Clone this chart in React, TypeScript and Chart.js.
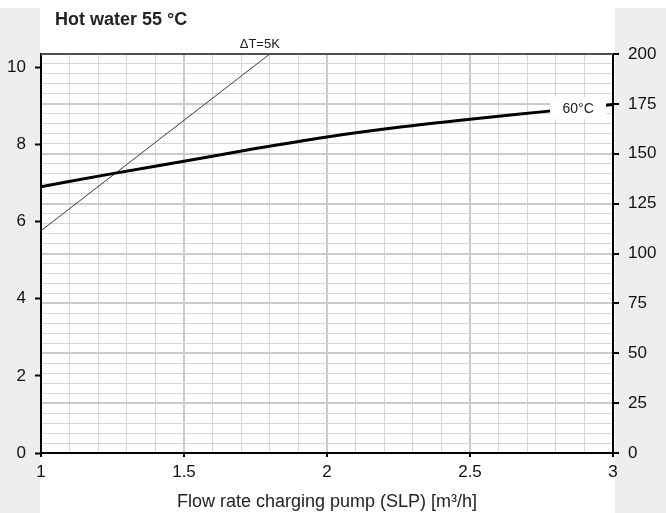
import React, { useEffect, useRef } from "react";
import { Chart, registerables } from "chart.js";

Chart.register(...registerables);

// ---- data ----
const flowRates = [1, 1.25, 1.5, 1.75, 2, 2.25, 2.5, 2.75, 3];
const output60 = [6.9, 7.24, 7.56, 7.89, 8.19, 8.44, 8.65, 8.84, 9.03];
const deltaTFlow = [1, 1.8];
const deltaTOutput = [5.76, 10.34];
const xTickLabels = [1, 1.5, 2, 2.5, 3];
const leftTicks = [0, 2, 4, 6, 8, 10];
const rightTicks = [0, 25, 50, 75, 100, 125, 150, 175, 200];
const curveLabelX = 2.878;
const curveLabelY = 8.94;
const chartTitle = "Hot water 55 °C";
const xTitle = "Flow rate charging pump (SLP) [m³/h]";
const curveLabel = "60°C";
const deltaLabel = "ΔT=5K";

const FONT = "'Liberation Sans', Arial, sans-serif";
const X_MIN = 1;
const X_MAX = 3;
const LEFT_MAX = 10.34;
const RIGHT_MAX = 200;
const X_MINOR = 0.1;
const R_MINOR = 5;

const near = (a: number, b: number) => Math.abs(a - b) < 1e-6;
const isXMajor = (v: number) => xTickLabels.some((t) => near(t, v));
const isRMajor = (v: number) => rightTicks.some((t) => near(t, v));

const xGridValues: number[] = [];
for (let i = 0; i <= Math.round((X_MAX - X_MIN) / X_MINOR); i++) {
  xGridValues.push(Math.round((X_MIN + i * X_MINOR) * 10) / 10);
}
const rGridValues: number[] = [];
for (let i = 0; i <= RIGHT_MAX / R_MINOR; i++) rGridValues.push(i * R_MINOR);

const decorPlugin = {
  id: "decor",
  beforeDraw(chart: any) {
    const { ctx, width, height } = chart;
    ctx.save();
    ctx.fillStyle = "#ffffff";
    ctx.fillRect(0, 0, width, height);
    ctx.fillStyle = "#eeeeee";
    ctx.fillRect(0, 8, 40, height - 8);
    ctx.fillRect(615, 8, width - 615, height - 8);
    ctx.fillStyle = "#222222";
    ctx.font = `bold 18px ${FONT}`;
    ctx.textAlign = "left";
    ctx.textBaseline = "alphabetic";
    ctx.fillText(chartTitle, 55, 25);
    ctx.restore();
  },
  afterDatasetsDraw(chart: any) {
    const { ctx, chartArea, scales } = chart;
    const x = scales.x;
    const y = scales.y;
    ctx.save();
    // curve label box
    const cx = x.getPixelForValue(curveLabelX);
    const cy = y.getPixelForValue(curveLabelY);
    ctx.fillStyle = "#ffffff";
    ctx.fillRect(cx - 28, cy - 11, 56, 22);
    ctx.fillStyle = "#222222";
    ctx.font = `14px ${FONT}`;
    ctx.textAlign = "center";
    ctx.textBaseline = "middle";
    ctx.fillText(curveLabel, cx, cy + 1);
    // delta T label
    const dx = x.getPixelForValue(deltaTFlow[1]);
    ctx.font = `13px ${FONT}`;
    ctx.fillText(deltaLabel, dx - 10, chartArea.top - 10);
    ctx.restore();
  },
  afterDraw(chart: any) {
    const { ctx, chartArea } = chart;
    ctx.save();
    ctx.strokeStyle = "#505050";
    ctx.lineWidth = 2;
    ctx.beginPath();
    ctx.moveTo(chartArea.left, chartArea.top);
    ctx.lineTo(chartArea.right, chartArea.top);
    ctx.stroke();
    ctx.restore();
  },
};

export default function App() {
  const ref = useRef<HTMLCanvasElement | null>(null);

  useEffect(() => {
    if (!ref.current) return;
    const chart = new Chart(ref.current, {
      type: "line",
      data: {
        datasets: [
          {
            label: "60°C",
            data: flowRates.map((f, i) => ({ x: f, y: output60[i] })),
            borderColor: "#000000",
            borderWidth: 3,
            pointRadius: 0,
            cubicInterpolationMode: "monotone",
            yAxisID: "y",
          },
          {
            label: "ΔT=5K",
            data: deltaTFlow.map((f, i) => ({ x: f, y: deltaTOutput[i] })),
            borderColor: "#3a3a3a",
            borderWidth: 1,
            pointRadius: 0,
            yAxisID: "y",
          },
        ],
      },
      options: {
        animation: false,
        responsive: true,
        maintainAspectRatio: false,
        layout: { padding: { top: 54, left: 0, right: 0, bottom: 0 } },
        plugins: { legend: { display: false }, tooltip: { enabled: false }, title: { display: false } },
        scales: {
          x: {
            type: "linear",
            min: X_MIN,
            max: X_MAX,
            afterBuildTicks: (s: any) => {
              s.ticks = xGridValues.map((v) => ({ value: v }));
            },
            afterFit: (s: any) => {
              s.height = 60;
            },
            ticks: {
              autoSkip: false,
              maxRotation: 0,
              minRotation: 0,
              padding: 5,
              color: "#111111",
              font: { family: FONT, size: 17 },
              callback: (v: any) => (isXMajor(Number(v)) ? String(Math.round(Number(v) * 10) / 10) : ""),
            },
            grid: {
              color: (c: any) => (c.tick && isXMajor(c.tick.value) ? "#cbcbcb" : "#d6d6d6"),
              lineWidth: (c: any) => (c.tick && isXMajor(c.tick.value) ? 2 : 1),
              tickLength: 4,
              tickWidth: 2,
              tickColor: (c: any) => (c.tick && isXMajor(c.tick.value) ? "#000000" : "rgba(0,0,0,0)"),
            },
            border: { color: "#000000", width: 2 },
            title: {
              display: true,
              text: xTitle,
              color: "#222222",
              font: { family: FONT, size: 18 },
              padding: { top: 0, bottom: 0 },
            },
          },
          y: {
            type: "linear",
            position: "left",
            min: 0,
            max: LEFT_MAX,
            afterBuildTicks: (s: any) => {
              s.ticks = leftTicks.map((v) => ({ value: v }));
            },
            afterFit: (s: any) => {
              s.width = 41;
            },
            ticks: {
              padding: 9,
              color: "#111111",
              font: { family: FONT, size: 17 },
              callback: (v: any) => String(v),
            },
            grid: {
              drawOnChartArea: false,
              tickLength: 6,
              tickWidth: 2,
              tickColor: "#000000",
            },
            border: { color: "#000000", width: 2 },
          },
          y2: {
            type: "linear",
            position: "right",
            min: 0,
            max: RIGHT_MAX,
            afterBuildTicks: (s: any) => {
              s.ticks = rGridValues.map((v) => ({ value: v }));
            },
            afterFit: (s: any) => {
              s.width = 53;
            },
            ticks: {
              autoSkip: false,
              padding: 9,
              color: "#111111",
              font: { family: FONT, size: 17 },
              callback: (v: any) => (isRMajor(Number(v)) ? String(v) : ""),
            },
            grid: {
              color: (c: any) => (c.tick && isRMajor(c.tick.value) ? "#cbcbcb" : "#d6d6d6"),
              lineWidth: (c: any) => (c.tick && isRMajor(c.tick.value) ? 2 : 1),
              tickLength: 6,
              tickWidth: 2,
              tickColor: (c: any) => (c.tick && isRMajor(c.tick.value) ? "#000000" : "rgba(0,0,0,0)"),
            },
            border: { color: "#000000", width: 2 },
          },
        },
      } as any,
      plugins: [decorPlugin],
    });
    return () => chart.destroy();
  }, []);

  return (
    <div style={{ position: "fixed", left: 0, top: 0, width: 666, height: 513 }}>
      <canvas ref={ref} />
    </div>
  );
}
